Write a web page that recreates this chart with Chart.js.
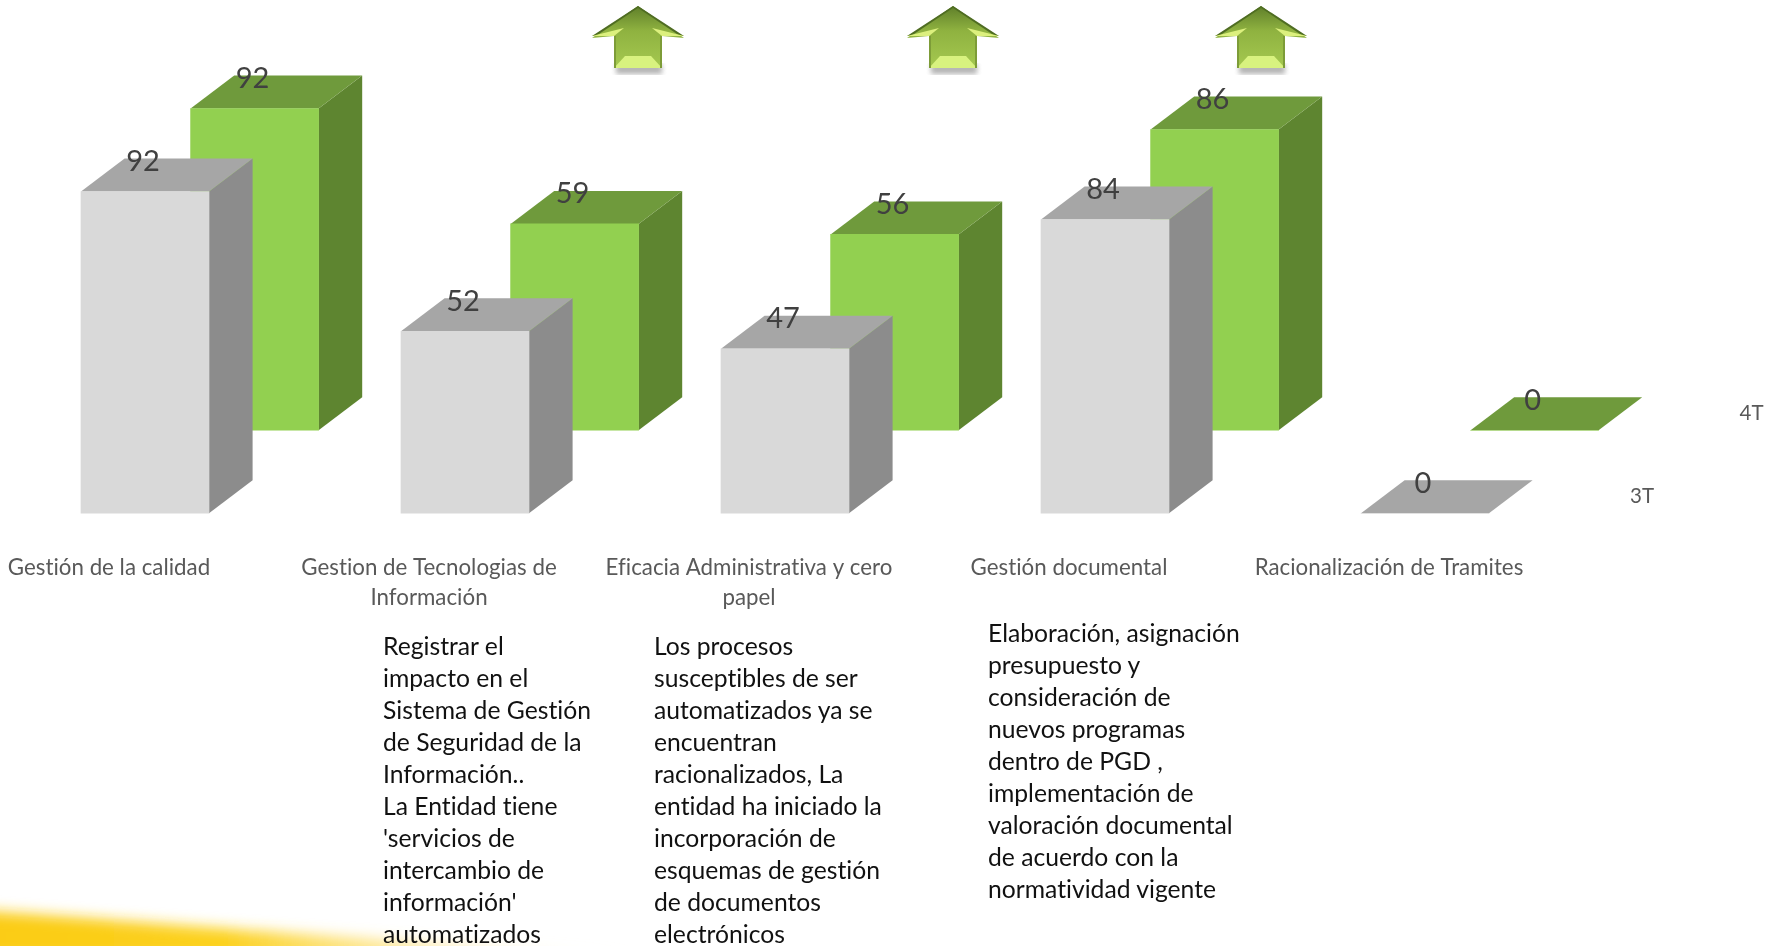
<!DOCTYPE html>
<html lang="es">
<head>
<meta charset="utf-8">
<title>Indicadores</title>
<script src="https://cdn.jsdelivr.net/npm/chart.js@4/dist/chart.umd.min.js"></script>
<style>
  html, body { margin: 0; padding: 0; background: #fff; overflow: hidden; }
  #stage { position: relative; width: 1781px; height: 946px; overflow: hidden; }
  #chart, #decor { position: absolute; left: 0; top: 0; }
  .note {
    position: absolute;
    font: 24.7px/32px Lato, sans-serif;
    font-variant-ligatures: none;
    color: #111;
    white-space: pre;
  }
</style>
</head>
<body>
<div id="stage">
  <svg id="decor" width="1781" height="946" viewBox="0 0 1781 946">
    <defs>
      <linearGradient id="sweep" gradientUnits="userSpaceOnUse" x1="0" x2="650" y1="0" y2="0">
        <stop offset="0" stop-color="#fbcc14"/>
        <stop offset="0.35" stop-color="#fcd11f"/>
        <stop offset="0.65" stop-color="#fde07a" stop-opacity="0.65"/>
        <stop offset="1" stop-color="#fff" stop-opacity="0"/>
      </linearGradient>
      <linearGradient id="shaft" x1="0" x2="0" y1="0" y2="1">
        <stop offset="0" stop-color="#5f7f2a"/>
        <stop offset="0.4" stop-color="#8fb240"/>
        <stop offset="1" stop-color="#a5c950"/>
      </linearGradient>
      <filter id="blur" filterUnits="userSpaceOnUse" x="-100" y="850" width="900" height="200">
        <feGaussianBlur stdDeviation="7"/>
      </filter>
      <filter id="soft"><feGaussianBlur stdDeviation="2.5"/></filter>
      <g id="arrow">
        <path d="M-22 58 H24 V68 H-22 Z" fill="#777" opacity="0.55" filter="url(#soft)"/>
        <path d="M-46 32 L0 0 L46 32 L24 30 V62 H-24 V30 Z" fill="url(#shaft)"/>
        <path d="M-46 30 L0 0 L46 30 L42 30 L0 2 L-42 30 Z" fill="#4f6d22"/>
        <path d="M-46 30 L-14 22 L-24 30 Z" fill="#dcf07e"/>
        <path d="M46 30 L14 22 L24 30 Z" fill="#dcf07e"/>
        <path d="M-24 62 L-13 50 H13 L24 62 Z" fill="#d8f27f"/>
        <path d="M-24 30 H-22 V62 H-24 Z M22 30 H24 V62 H22 Z" fill="#7d9c38"/>
      </g>
    </defs>
    <path d="M-60 908 C100 918 300 936 660 958 L-60 958 Z" fill="url(#sweep)" filter="url(#blur)"/>
    <use href="#arrow" x="638" y="6"/>
    <use href="#arrow" x="953" y="6"/>
    <use href="#arrow" x="1261" y="6"/>
  </svg>
  <canvas id="chart" width="1781" height="946"></canvas>
  <div class="note" style="left:383px;top:630px">Registrar el
impacto en el
Sistema de Gestión
de Seguridad de la
Información..
La Entidad tiene
'servicios de
intercambio de
información'
automatizados</div>
  <div class="note" style="left:654px;top:630px">Los procesos
susceptibles de ser
automatizados ya se
encuentran
racionalizados, La
entidad ha iniciado la
incorporación de
esquemas de gestión
de documentos
electrónicos</div>
  <div class="note" style="left:988px;top:617px">Elaboración, asignación
presupuesto y
consideración de
nuevos programas
dentro de PGD ,
implementación de
valoración documental
de acuerdo con la
normatividad vigente</div>
</div>
<script>
const categories = [
  "Gestión de la calidad",
  ["Gestion de Tecnologias de", "Información"],
  ["Eficacia Administrativa y cero", "papel"],
  "Gestión documental",
  "Racionalización de Tramites",
];
const values3T = [92, 52, 47, 84, 0];
const values4T = [92, 59, 56, 86, 0];

// 3D look: each dataset carries its own faces, plugin draws them behind the bar
const depth = { x: 43.6, y: -33 };

const boxes3d = {
  id: "boxes3d",
  beforeDraw(chart) {
    // lato ligatures off, the original font has none
    chart.ctx.letterSpacing = "0.01px";
  },
  beforeDatasetDraw(chart, args) {
    const ds = chart.data.datasets[args.index];
    const ctx = chart.ctx;
    ctx.save();
    ctx.translate(ds.shift.x, ds.shift.y);
    args.meta.data.forEach((bar) => {
      const left = bar.x - bar.width / 2;
      const right = bar.x + bar.width / 2;
      // side face
      ctx.fillStyle = ds.sideColor;
      ctx.beginPath();
      ctx.moveTo(right, bar.y);
      ctx.lineTo(right + depth.x, bar.y + depth.y);
      ctx.lineTo(right + depth.x, bar.base + depth.y);
      ctx.lineTo(right, bar.base);
      ctx.closePath();
      ctx.fill();
      // top face
      ctx.fillStyle = ds.topColor;
      ctx.beginPath();
      ctx.moveTo(left, bar.y);
      ctx.lineTo(left + depth.x, bar.y + depth.y);
      ctx.lineTo(right + depth.x, bar.y + depth.y);
      ctx.lineTo(right, bar.y);
      ctx.closePath();
      ctx.fill();
    });
  },
  afterDatasetDraw(chart) {
    chart.ctx.restore();
  },
  afterDatasetsDraw(chart) {
    const ctx = chart.ctx;
    chart.data.datasets.forEach((ds, i) => {
      const meta = chart.getDatasetMeta(i);
      ctx.save();
      ctx.translate(ds.shift.x, ds.shift.y);
      ctx.textAlign = "center";
      ctx.textBaseline = "middle";
      ctx.fillStyle = "#404040";
      ctx.font = "29px Lato, sans-serif";
      meta.data.forEach((bar, j) => {
        ctx.fillText(String(ds.data[j]), bar.x - 2, bar.y - 30);
      });
      // series name at the end of the depth axis
      const last = meta.data[meta.data.length - 1];
      ctx.fillStyle = "#595959";
      ctx.font = "20.5px Lato, sans-serif";
      ctx.fillText(ds.label, last.x + 217, last.base - 17);
      ctx.restore();
    });
  },
};

new Chart(document.getElementById("chart"), {
  type: "bar",
  data: {
    labels: categories,
    datasets: [
      {
        label: "3T",
        data: values3T,
        backgroundColor: "#d9d9d9",
        topColor: "#a6a6a6",
        sideColor: "#8c8c8c",
        shift: { x: -15, y: 0 },
      },
      {
        label: "4T",
        data: values4T,
        backgroundColor: "#92d050",
        topColor: "#6f9a3c",
        sideColor: "#5e8530",
        shift: { x: 94.6, y: -83 },
      },
    ],
  },
  options: {
    responsive: false,
    animation: false,
    layout: { padding: { left: 0, right: 181, top: 163.5, bottom: 301 } },
    plugins: { legend: { display: false }, tooltip: { enabled: false } },
    datasets: { bar: { grouped: false, barThickness: 128, borderWidth: 0, clip: false } },
    scales: {
      x: {
        grid: { display: false },
        border: { display: false },
        ticks: {
          autoSkip: false,
          maxRotation: 0,
          labelOffset: -51,
          padding: 32,
          color: "#595959",
          font: { family: "Lato, sans-serif", size: 22.3, lineHeight: 1.34 },
        },
      },
      y: { display: false, min: 0, max: 100 },
    },
  },
  plugins: [boxes3d],
});
</script>
</body>
</html>
